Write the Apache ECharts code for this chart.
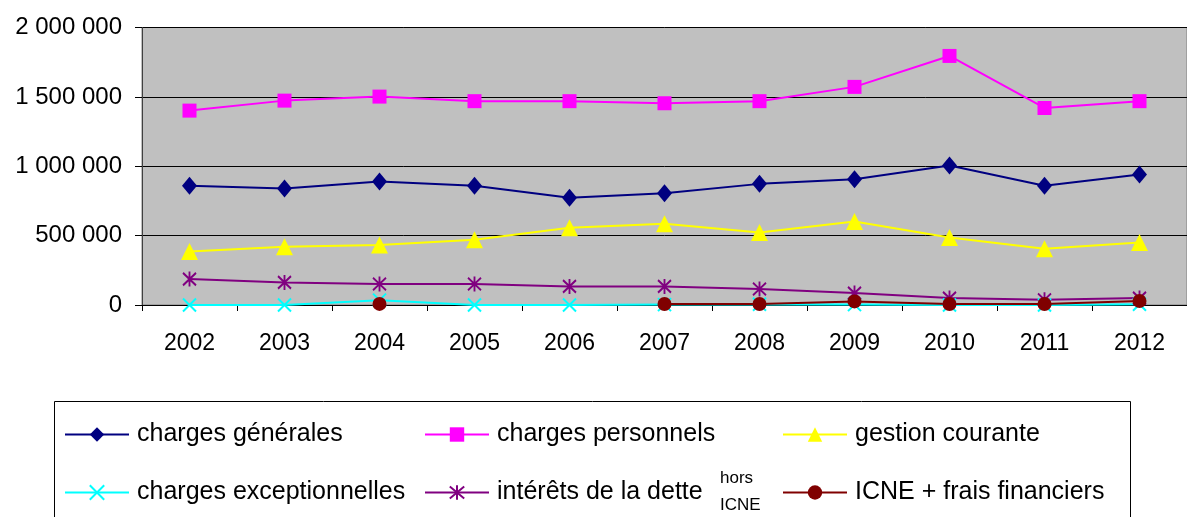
<!DOCTYPE html>
<html>
<head>
<meta charset="utf-8">
<script src="https://cdn.jsdelivr.net/npm/echarts@6/dist/echarts.min.js"></script>
<style>
html,body{margin:0;padding:0;background:#fff;}
#chart{width:1187px;height:517px;}
</style>
</head>
<body>
<div id="chart"></div>
<script>
const years = ['2002','2003','2004','2005','2006','2007','2008','2009','2010','2011','2012'];
const chargesGenerales = [859000, 839000, 890000, 859000, 773000, 806000, 873000, 907000, 1005000, 859000, 940000];
const chargesPersonnels = [1401000, 1473000, 1502000, 1469000, 1469000, 1454000, 1469000, 1572000, 1795000, 1420000, 1469000];
const gestionCourante = [386000, 420000, 432000, 470000, 556000, 585000, 523000, 602000, 487000, 405000, 451000];
const chargesExceptionnelles = [0, 0, 35000, 0, 0, 3000, 5000, 3000, 0, 0, 5000];
const interetsDette = [187000, 163000, 151000, 151000, 134000, 134000, 115000, 86000, 50000, 38000, 50000];
const icneFrais = [null, null, 8000, null, null, 7000, 7000, 26000, 7000, 7000, 29000];
const seriesNames = ['charges générales', 'charges personnels', 'gestion courante',
  'charges exceptionnelles', 'intérêts de la dette hors ICNE', 'ICNE + frais financiers'];
const yTicks = [0, 500000, 1000000, 1500000, 2000000];

const FONT = '"Liberation Sans", Arial, sans-serif';
const chart = echarts.init(document.getElementById('chart'), null, {renderer: 'canvas'});

function fmt(v){ return String(v).replace(/\B(?=(\d{3})+(?!\d))/g, ' '); }

const xPath = 'path://M0,0L10,10M10,0L0,10';
const starPath = 'path://M0,1L10,11M10,1L0,11M5,0L5,12';

function mkSeries(name, data, color, symbol, size, extra){
  return Object.assign({
    name: name, type: 'line', data: data,
    symbol: symbol, symbolSize: size,
    lineStyle: {color: color, width: 2},
    itemStyle: {color: color},
    connectNulls: false,
    z: 3
  }, extra || {});
}

const legendPos = [
  {left: 64, top: 422},
  {left: 424, top: 422},
  {left: 782, top: 422},
  {left: 64, top: 480},
  {left: 424, top: 480},
  {left: 782, top: 480}
];

const legends = seriesNames.map((n, i) => ({
  data: [n],
  left: legendPos[i].left,
  top: legendPos[i].top,
  padding: 0,
  itemWidth: 64,
  itemHeight: 18,
  formatter: function(name){ return name === 'intérêts de la dette hors ICNE' ? 'intérêts de la dette' : name; },
  textStyle: {fontFamily: FONT, fontSize: 25, color: '#000', padding: [0,0,0,3]},
  selectedMode: false
}));

const option = {
  animation: false,
  backgroundColor: '#fff',
  grid: {
    left: 142, top: 27.5, right: -9.5, bottom: 212,
    show: true, backgroundColor: '#c0c0c0', borderColor: '#808080', borderWidth: 1,
    containLabel: false
  },
  legend: legends,
  graphic: [
    {type: 'rect', z: 0, shape: {x: 54.5, y: 401.5, width: 1076, height: 200},
     style: {fill: '#fff', stroke: '#000', lineWidth: 1}},
    {type: 'text', z: 5, left: 720, top: 465,
     style: {text: 'hors\nICNE', fontFamily: FONT, fontSize: 17, lineHeight: 27, fill: '#000'}}
  ],
  xAxis: {
    type: 'category', data: years, boundaryGap: true,
    axisLine: {lineStyle: {color: '#000', width: 1}},
    axisTick: {show: true, length: 6, lineStyle: {color: '#000'}},
    axisLabel: {fontFamily: FONT, fontSize: 23, color: '#000', margin: 27}
  },
  yAxis: {
    type: 'value', min: 0, max: 2000000, interval: 500000,
    axisLine: {show: true, lineStyle: {color: '#404040', width: 1}},
    axisTick: {show: true, length: 7, lineStyle: {color: '#000'}},
    axisLabel: {fontFamily: FONT, fontSize: 24, color: '#000', margin: 20,
      formatter: function(v){ return fmt(v); }},
    splitLine: {show: true, lineStyle: {color: '#000', width: 1}}
  },
  series: [
    mkSeries(seriesNames[0], chargesGenerales, '#000080', 'diamond', [15, 18]),
    mkSeries(seriesNames[1], chargesPersonnels, '#ff00ff', 'rect', 14),
    mkSeries(seriesNames[2], gestionCourante, '#ffff00', 'triangle', 17),
    mkSeries(seriesNames[3], chargesExceptionnelles, '#00ffff', xPath, 13,
      {itemStyle: {color: '#00ffff', borderColor: '#00ffff', borderWidth: 2}}),
    mkSeries(seriesNames[4], interetsDette, '#800080', starPath, [13, 15],
      {itemStyle: {color: '#800080', borderColor: '#800080', borderWidth: 2}}),
    mkSeries(seriesNames[5], icneFrais, '#800000', 'circle', 14)
  ]
};
chart.setOption(option);
</script>
</body>
</html>
